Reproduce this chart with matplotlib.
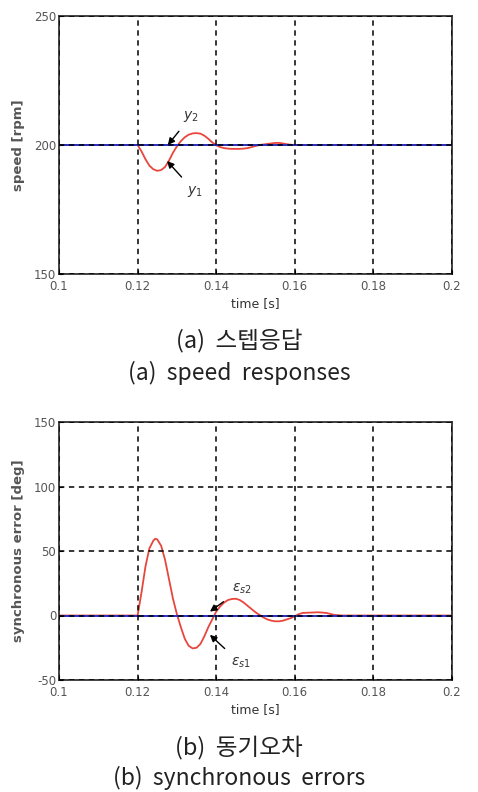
import matplotlib
matplotlib.use("Agg")
import matplotlib.pyplot as plt

plt.rcParams['font.family'] = ['DejaVu Sans', 'Noto Sans CJK KR']
plt.rcParams['axes.unicode_minus'] = False

# ---- data ----
t_speed = [0.100, 0.120, 0.121, 0.122, 0.123, 0.124, 0.125, 0.126, 0.127, 0.128, 0.129,
           0.130, 0.131, 0.132, 0.133, 0.134, 0.135, 0.136, 0.137, 0.138, 0.139,
           0.140, 0.141, 0.142, 0.143, 0.144, 0.145, 0.146, 0.147, 0.148, 0.149,
           0.150, 0.151, 0.152, 0.153, 0.154, 0.155, 0.156, 0.157, 0.158, 0.159,
           0.160, 0.200]
y1 = [200, 200, 197.5, 194.5, 192.0, 190.6, 190.0, 190.3, 191.5, 194.0, 197.0,
      199.5, 201.5, 203.0, 204.0, 204.5, 204.6, 204.4, 203.6, 202.4, 201.0,
      199.9, 199.2, 198.8, 198.6, 198.5, 198.5, 198.5, 198.6, 198.8, 199.2,
      199.6, 200.0, 200.2, 200.4, 200.6, 200.8, 200.8, 200.6, 200.3, 200.1,
      200, 200]
t_y2 = [0.100, 0.200]
y2 = [200, 200]

t_err = [0.100, 0.120, 0.121, 0.122, 0.123, 0.124, 0.1245, 0.125, 0.126, 0.127, 0.128, 0.129,
         0.130, 0.131, 0.132, 0.133, 0.134, 0.135, 0.136, 0.137, 0.138, 0.139,
         0.140, 0.141, 0.142, 0.143, 0.144, 0.145, 0.146, 0.147, 0.148, 0.149,
         0.150, 0.151, 0.152, 0.153, 0.154, 0.155, 0.156, 0.157, 0.158, 0.159,
         0.160, 0.161, 0.162, 0.166, 0.168, 0.170, 0.172, 0.200]
es1 = [0, 0, 18, 38, 52, 58, 59.5, 59, 54, 43, 28, 13,
       1, -9, -18, -23.5, -25.5, -25, -22, -16, -9, -3,
       3, 7, 10, 12, 12.8, 13, 12, 10, 7.5, 5,
       2.5, 0.5, -1.5, -3, -4, -4.5, -4.5, -4, -3, -2,
       -0.5, 1, 2, 2.5, 2, 0.5, 0, 0]
t_es2 = [0.100, 0.200]
es2 = [0, 0]

x_ticks = [0.1, 0.12, 0.14, 0.16, 0.18, 0.2]
x_ticklabels = ['0.1', '0.12', '0.14', '0.16', '0.18', '0.2']
speed_ticks = [150, 200, 250]
err_ticks = [-50, 0, 50, 100, 150]

RED = '#e8463c'
BLUE = '#2a2fc4'
CJK = ['Noto Sans CJK KR', 'DejaVu Sans']

fig = plt.figure(figsize=(4.78, 7.92), dpi=100)
W, H = 478, 792
LEFT, RIGHT = 59, 452

def make_axes(top_px, bottom_px):
    return fig.add_axes([LEFT / W, 1 - bottom_px / H, (RIGHT - LEFT) / W, (bottom_px - top_px) / H])

def style(ax, yticks, ylabel):
    ax.set_xlim(0.1, 0.2)
    ax.set_xticks(x_ticks)
    ax.set_xticklabels(x_ticklabels)
    ax.set_yticks(yticks)
    ax.set_ylim(yticks[0], yticks[-1])
    ax.tick_params(direction='in', length=3, labelsize=8.5, labelcolor='#555555', width=0.8)
    ax.tick_params(axis='x', pad=4)
    ax.tick_params(axis='y', pad=2)
    ax.grid(True, color='black', linestyle=(0, (3.5, 3)), linewidth=1.1)
    ax.set_axisbelow(False)
    for s in ax.spines.values():
        s.set_linewidth(1.3)
        s.set_color('#333333')
    ax.set_xlabel('time [s]', fontsize=9, color='#333333', labelpad=3)
    ax.set_ylabel(ylabel, fontsize=9.5, color='#555555', fontweight='bold')
    ax.yaxis.set_label_coords((25 - LEFT) / (RIGHT - LEFT), 0.5)

# ---- top: speed responses ----
ax1 = make_axes(16, 274)
ax1.plot(t_speed, y1, color=RED, lw=1.3, zorder=2)
ax1.plot(t_y2, y2, color=BLUE, lw=1.4, zorder=2.5)
style(ax1, speed_ticks, 'speed [rpm]')
ax1.annotate('$y_2$', xy=(0.1277, 200), xytext=(0.1335, 211),
             fontsize=10, color='#333333', ha='center', va='center',
             arrowprops=dict(arrowstyle='-|>', color='black', lw=1.0, shrinkA=4, shrinkB=0, mutation_scale=10))
ax1.annotate('$y_1$', xy=(0.1275, 193.8), xytext=(0.1345, 182),
             fontsize=10, color='#333333', ha='center', va='center',
             arrowprops=dict(arrowstyle='-|>', color='black', lw=1.0, shrinkA=4, shrinkB=0, mutation_scale=10))

fig.text(0.5, 1 - 340 / H, '(a)  스텝응답', ha='center', va='center', fontsize=17, color='#222222', family=CJK)
fig.text(0.5, 1 - 373 / H, '(a)  speed  responses', ha='center', va='center', fontsize=16.5, color='#222222', family=CJK)

# ---- bottom: synchronous errors ----
ax2 = make_axes(422, 680)
ax2.plot(t_err, es1, color=RED, lw=1.3, zorder=2)
ax2.plot(t_es2, es2, color=BLUE, lw=1.4, zorder=2.5)
style(ax2, err_ticks, 'synchronous error [deg]')
ax2.annotate(r'$\varepsilon_{s2}$', xy=(0.1384, 3), xytext=(0.1465, 21),
             fontsize=10, color='#333333', ha='center', va='center',
             arrowprops=dict(arrowstyle='-|>', color='black', lw=1.0, shrinkA=5, shrinkB=0, mutation_scale=10))
ax2.annotate(r'$\varepsilon_{s1}$', xy=(0.1384, -15), xytext=(0.1462, -37),
             fontsize=10, color='#333333', ha='center', va='center',
             arrowprops=dict(arrowstyle='-|>', color='black', lw=1.0, shrinkA=5, shrinkB=0, mutation_scale=10))

fig.text(0.5, 1 - 747 / H, '(b)  동기오차', ha='center', va='center', fontsize=17, color='#222222', family=CJK)
fig.text(0.5, 1 - 778 / H, '(b)  synchronous  errors', ha='center', va='center', fontsize=16.5, color='#222222', family=CJK)

fig.savefig('out.png', dpi=100)
